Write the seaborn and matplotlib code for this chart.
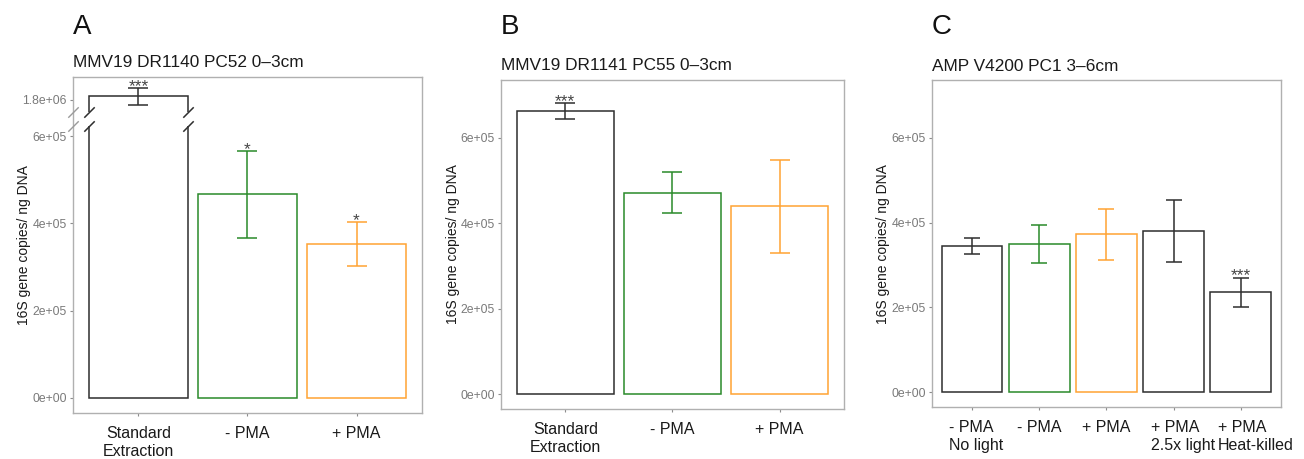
import numpy as np
import matplotlib
matplotlib.use("Agg")
import matplotlib.pyplot as plt
from matplotlib.path import Path
from matplotlib.transforms import ScaledTranslation
import seaborn as sns

# ---- data ----
cats_a = ["Standard\nExtraction", "- PMA", "+ PMA"]
mean_a = [1.838e6, 4.66e5, 3.52e5]
sd_a = [9.2e4, 1.0e5, 5.05e4]
sig_a = ["***", "*", "*"]
yticks_a = [0, 2e5, 4e5, 6e5, 1.8e6]
yticklabels_a = ["0e+00", "2e+05", "4e+05", "6e+05", "1.8e+06"]

cats_b = ["Standard\nExtraction", "- PMA", "+ PMA"]
mean_b = [6.62e5, 4.71e5, 4.39e5]
sd_b = [1.85e4, 4.8e4, 1.09e5]
sig_b = ["***", "", ""]

cats_c = ["- PMA\nNo light", "- PMA", "+ PMA", "+ PMA\n2.5x light", "+ PMA\nHeat-killed"]
mean_c = [3.45e5, 3.49e5, 3.72e5, 3.79e5, 2.36e5]
sd_c = [1.95e4, 4.5e4, 6.0e4, 7.3e4, 3.4e4]
sig_c = ["", "", "", "", "***"]

yticks_bc = [0, 2e5, 4e5, 6e5]
yticklabels_bc = ["0e+00", "2e+05", "4e+05", "6e+05"]

titles = ["MMV19 DR1140 PC52 0–3cm", "MMV19 DR1141 PC55 0–3cm", "AMP V4200 PC1 3–6cm"]
letters = ["A", "B", "C"]
ylab = "16S gene copies/ ng DNA"

# ---- colours ----
DARK = "#2e2e2e"
GREEN = "#2a8a2a"
ORANGE = "#ffa333"
pal_abc = [DARK, GREEN, ORANGE]
pal_c = [DARK, GREEN, ORANGE, DARK, DARK]

# broken axis for panel A (values between BRK_LO and BRK_HI squeezed)
BRK_LO = 6.24e5
BRK_HI = 1.66e6
BRK_HI_D = 6.55e5
K = 0.2


def fwd(y):
    y = np.asarray(y, dtype=float)
    mid = BRK_LO + (y - BRK_LO) * (BRK_HI_D - BRK_LO) / (BRK_HI - BRK_LO)
    top = BRK_HI_D + (y - BRK_HI) * K
    return np.where(y <= BRK_LO, y, np.where(y >= BRK_HI, top, mid))


def inv(d):
    d = np.asarray(d, dtype=float)
    mid = BRK_LO + (d - BRK_LO) * (BRK_HI - BRK_LO) / (BRK_HI_D - BRK_LO)
    top = BRK_HI + (d - BRK_HI_D) / K
    return np.where(d <= BRK_LO, d, np.where(d >= BRK_HI_D, top, mid))


sns.set_theme(style="white")
plt.rcParams["font.family"] = ["Liberation Sans", "DejaVu Sans"]

fig = plt.figure(figsize=(13.04, 4.59), dpi=100)
ax_a = fig.add_axes([0.056, 0.100, 0.2676, 0.732])
ax_b = fig.add_axes([0.3842, 0.109, 0.2630, 0.717])
ax_c = fig.add_axes([0.7147, 0.113, 0.2676, 0.712])


def draw_panel(ax, cats, means, sds, sigs, colors, capsize, title):
    sns.barplot(x=cats, y=means, hue=cats, palette=colors, fill=False,
                width=0.9, linewidth=1.1, legend=False, errorbar=None, ax=ax)
    for i, (m, s, c, sg) in enumerate(zip(means, sds, colors, sigs)):
        ax.errorbar(i, m, yerr=s, fmt="none", ecolor=c, elinewidth=1.1,
                    capsize=capsize, capthick=1.1, zorder=3)
        if sg:
            ax.annotate(sg, (i, m + s), xytext=(0, -2), textcoords="offset points",
                        ha="center", va="baseline", fontsize=12.5, color="#444444")
    ax.set_xlim(-0.6, len(cats) - 0.4)
    for sp in ax.spines.values():
        sp.set_visible(True)
        sp.set_color("#b0b0b0")
        sp.set_linewidth(1.0)
    ax.tick_params(axis="both", bottom=True, left=True, length=2.5, width=0.8,
                   color="#8c8c8c")
    ax.tick_params(axis="y", labelsize=8.8, labelcolor="#7a7a7a", pad=2)
    ax.tick_params(axis="x", labelsize=11.5, labelcolor="#1a1a1a", pad=7)
    for lab in ax.get_xticklabels():
        lab.set_linespacing(1.2)
    ax.set_xlabel("")
    ax.set_ylabel(ylab, fontsize=10, color="#1a1a1a")
    ax.yaxis.set_label_coords(-0.12, 0.5)
    ax.set_title(title, loc="left", fontsize=12.4, pad=7, color="#1a1a1a")


# panel A with broken y axis
draw_panel(ax_a, cats_a, mean_a, sd_a, sig_a, pal_abc, 7.5, titles[0])
ax_a.set_yscale("function", functions=(fwd, inv))
ax_a.set_ylim(-3.5e4, 2.06e6)
ax_a.set_yticks(yticks_a)
ax_a.set_yticklabels(yticklabels_a)

bar = ax_a.patches[0]
x0 = bar.get_x()
x1 = x0 + bar.get_width()
ax_a.fill_betweenx([BRK_LO, BRK_HI], x0 - 0.03, x1 + 0.03, color="white", lw=0, zorder=4)
slash = Path([(-1.0, -1.0), (1.0, 1.0)], [Path.MOVETO, Path.LINETO])
ax_a.plot([x0, x0, x1, x1], [BRK_LO, BRK_HI, BRK_LO, BRK_HI], ls="none",
          marker=slash, ms=7.5, mfc="none", mec=DARK, mew=1.1, zorder=5, clip_on=False)
ax_a.plot([-0.6, -0.6], [BRK_LO, BRK_HI], ls="none", marker=slash, ms=7.5,
          mfc="none", mec="#9a9a9a", mew=1.0, zorder=5, clip_on=False)

# panel B
draw_panel(ax_b, cats_b, mean_b, sd_b, sig_b, pal_abc, 7.5, titles[1])
ax_b.set_ylim(-3.5e4, 7.35e5)
ax_b.set_yticks(yticks_bc)
ax_b.set_yticklabels(yticklabels_bc)

# panel C: two-line labels are left aligned, first line centred on the tick
draw_panel(ax_c, cats_c, mean_c, sd_c, sig_c, pal_c, 6, titles[2])
ax_c.set_ylim(-3.5e4, 7.35e5)
ax_c.set_yticks(yticks_bc)
ax_c.set_yticklabels(yticklabels_bc)
shift = ScaledTranslation(-0.23, 0, fig.dpi_scale_trans)
for lab in ax_c.get_xticklabels():
    if "\n" in lab.get_text():
        lab.set_horizontalalignment("left")
        lab.set_multialignment("left")
        lab.set_transform(lab.get_transform() + shift)

for ax, letter in zip([ax_a, ax_b, ax_c], letters):
    x = ax.get_position().x0
    fig.text(x, 0.926, letter, fontsize=20, ha="left", va="baseline", color="#111111")

fig.savefig("out.png", dpi=100)
